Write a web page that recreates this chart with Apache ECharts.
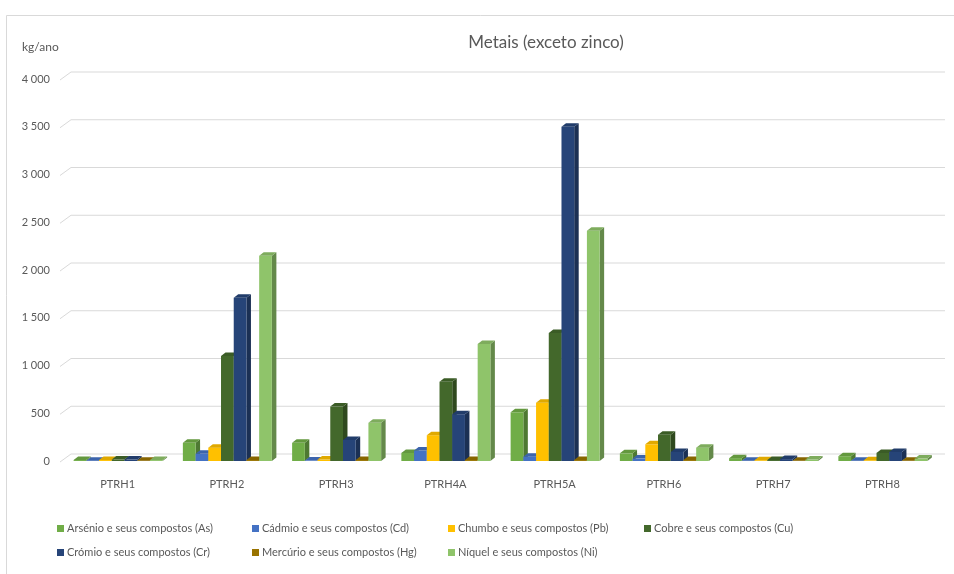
<!DOCTYPE html>
<html>
<head>
<meta charset="utf-8">
<script src="https://cdn.jsdelivr.net/npm/echarts@6/dist/echarts.min.js"></script>
<style>
html,body{margin:0;padding:0;background:#fff;}
#chart{width:954px;height:574px;}
</style>
</head>
<body>
<div id="chart"></div>
<script>
const categories = ['PTRH1','PTRH2','PTRH3','PTRH4A','PTRH5A','PTRH6','PTRH7','PTRH8'];
const seriesNames = [
  'Arsénio e seus compostos (As)',
  'Cádmio e seus compostos (Cd)',
  'Chumbo e seus compostos (Pb)',
  'Cobre e seus compostos (Cu)',
  'Crómio e seus compostos (Cr)',
  'Mercúrio e seus compostos (Hg)',
  'Níquel e seus compostos (Ni)'
];
const arsenio  = [10, 190, 190, 85, 510, 80, 30, 50];
const cadmio   = [3, 75, 5, 110, 45, 25, 3, 3];
const chumbo   = [10, 140, 15, 270, 610, 175, 8, 8];
const cobre    = [15, 1100, 570, 830, 1340, 275, 10, 85];
const cromio   = [15, 1710, 220, 490, 3500, 95, 20, 95];
const mercurio = [3, 10, 10, 10, 10, 10, 3, 3];
const niquel   = [10, 2150, 400, 1225, 2410, 140, 15, 25];
const yTicks = [0, 500, 1000, 1500, 2000, 2500, 3000, 3500, 4000];

const seriesValues = [arsenio, cadmio, chumbo, cobre, cromio, mercurio, niquel];
const colors = ['#70AD47','#4472C4','#FFC000','#43682B','#264478','#997300','#8FC46A'];

function shade(hex, f){
  const n = parseInt(hex.slice(1),16);
  const r = Math.round(((n>>16)&255)*f), g = Math.round(((n>>8)&255)*f), b = Math.round((n&255)*f);
  return 'rgb('+r+','+g+','+b+')';
}

const DX = 4.5, DY = 3.5;

function barRenderer(si){
  return function(params, api){
    const idx = api.value(0), v = api.value(1);
    const base = api.coord([idx, 0]);
    const top = api.coord([idx, v]);
    const band = api.size([1, 0])[0];
    const bw = band * 0.1164;
    const x0 = base[0] - 3.5 * bw + 0.5 + si * bw;
    const c = colors[si];
    const yb = base[1], yt = top[1];
    return {
      type: 'group',
      children: [
        {type:'polygon', shape:{points:[[x0+bw,yt],[x0+bw+DX,yt-DY],[x0+bw+DX,yb-DY],[x0+bw,yb]]}, style:{fill:shade(c,0.7)}},
        {type:'rect', shape:{x:x0, y:yt, width:bw, height:yb-yt}, style:{fill:c}},
        {type:'polygon', shape:{points:[[x0,yt],[x0+DX,yt-DY],[x0+bw+DX,yt-DY],[x0+bw,yt]]}, style:{fill:shade(c,0.88)}}
      ]
    };
  };
}

const series = [{
  type: 'custom',
  name: 'grid',
  silent: true,
  z: 0,
  data: yTicks.map(t => [0, t]),
  renderItem: function(params, api){
    const cs = params.coordSys;
    const y = api.coord([0, api.value(1)])[1];
    const x0 = cs.x;
    return {
      type: 'polyline',
      shape: {points: [[x0-3, y+1], [x0+8, y-7], [x0+cs.width+8, y-7]]},
      style: {stroke:'#D9D9D9', lineWidth:1, fill:null}
    };
  }
}];
seriesValues.forEach((vals, si) => {
  series.push({
    type: 'custom',
    name: seriesNames[si],
    z: 2,
    itemStyle: {color: colors[si]},
    encode: {x: 0, y: 1},
    data: vals.map((v, i) => [i, v]),
    renderItem: barRenderer(si)
  });
});

const legendCols = [52, 247, 443, 639];
const legends = seriesNames.map((name, i) => ({
  data: [name],
  left: legendCols[i % 4],
  top: i < 4 ? 518 : 542,
  itemWidth: 7,
  itemHeight: 7,
  icon: 'rect',
  textStyle: {fontSize: 11, color: '#595959', padding: [0,0,0,-2]}
}));

const chart = echarts.init(document.getElementById('chart'));
chart.setOption({
  animation: false,
  backgroundColor: '#fff',
  textStyle: {fontFamily: 'Lato, "Liberation Sans", sans-serif'},
  title: {
    text: 'Metais (exceto zinco)',
    left: 541,
    textAlign: 'center',
    top: 29,
    textStyle: {fontSize: 17, fontWeight: 'normal', color: '#595959', fontFamily: 'Lato, sans-serif'}
  },
  graphic: [
    {type:'rect', left:4, top:13, shape:{width:980, height:600}, style:{fill:null, stroke:'#D9D9D9', lineWidth:1}, silent:true},
    {type:'text', left:22, top:41, style:{text:'kg/ano', fill:'#595959', font:'12px Lato, sans-serif'}}
  ],
  legend: legends,
  grid: {left: 63, right: 17, top: 79, bottom: 113},
  xAxis: {
    type: 'category',
    data: categories,
    axisLine: {show: false},
    axisTick: {show: false},
    axisLabel: {margin: 18, fontSize: 11, color: '#595959'}
  },
  yAxis: {
    type: 'value',
    min: 0, max: 4000, interval: 500,
    splitLine: {show: false},
    axisLine: {show: false},
    axisTick: {show: false},
    axisLabel: {
      margin: 13, fontSize: 11, color: '#595959',
      formatter: v => String(v).replace(/\B(?=(\d{3})+(?!\d))/g, ' ')
    }
  },
  series: series
});
</script>
</body>
</html>
